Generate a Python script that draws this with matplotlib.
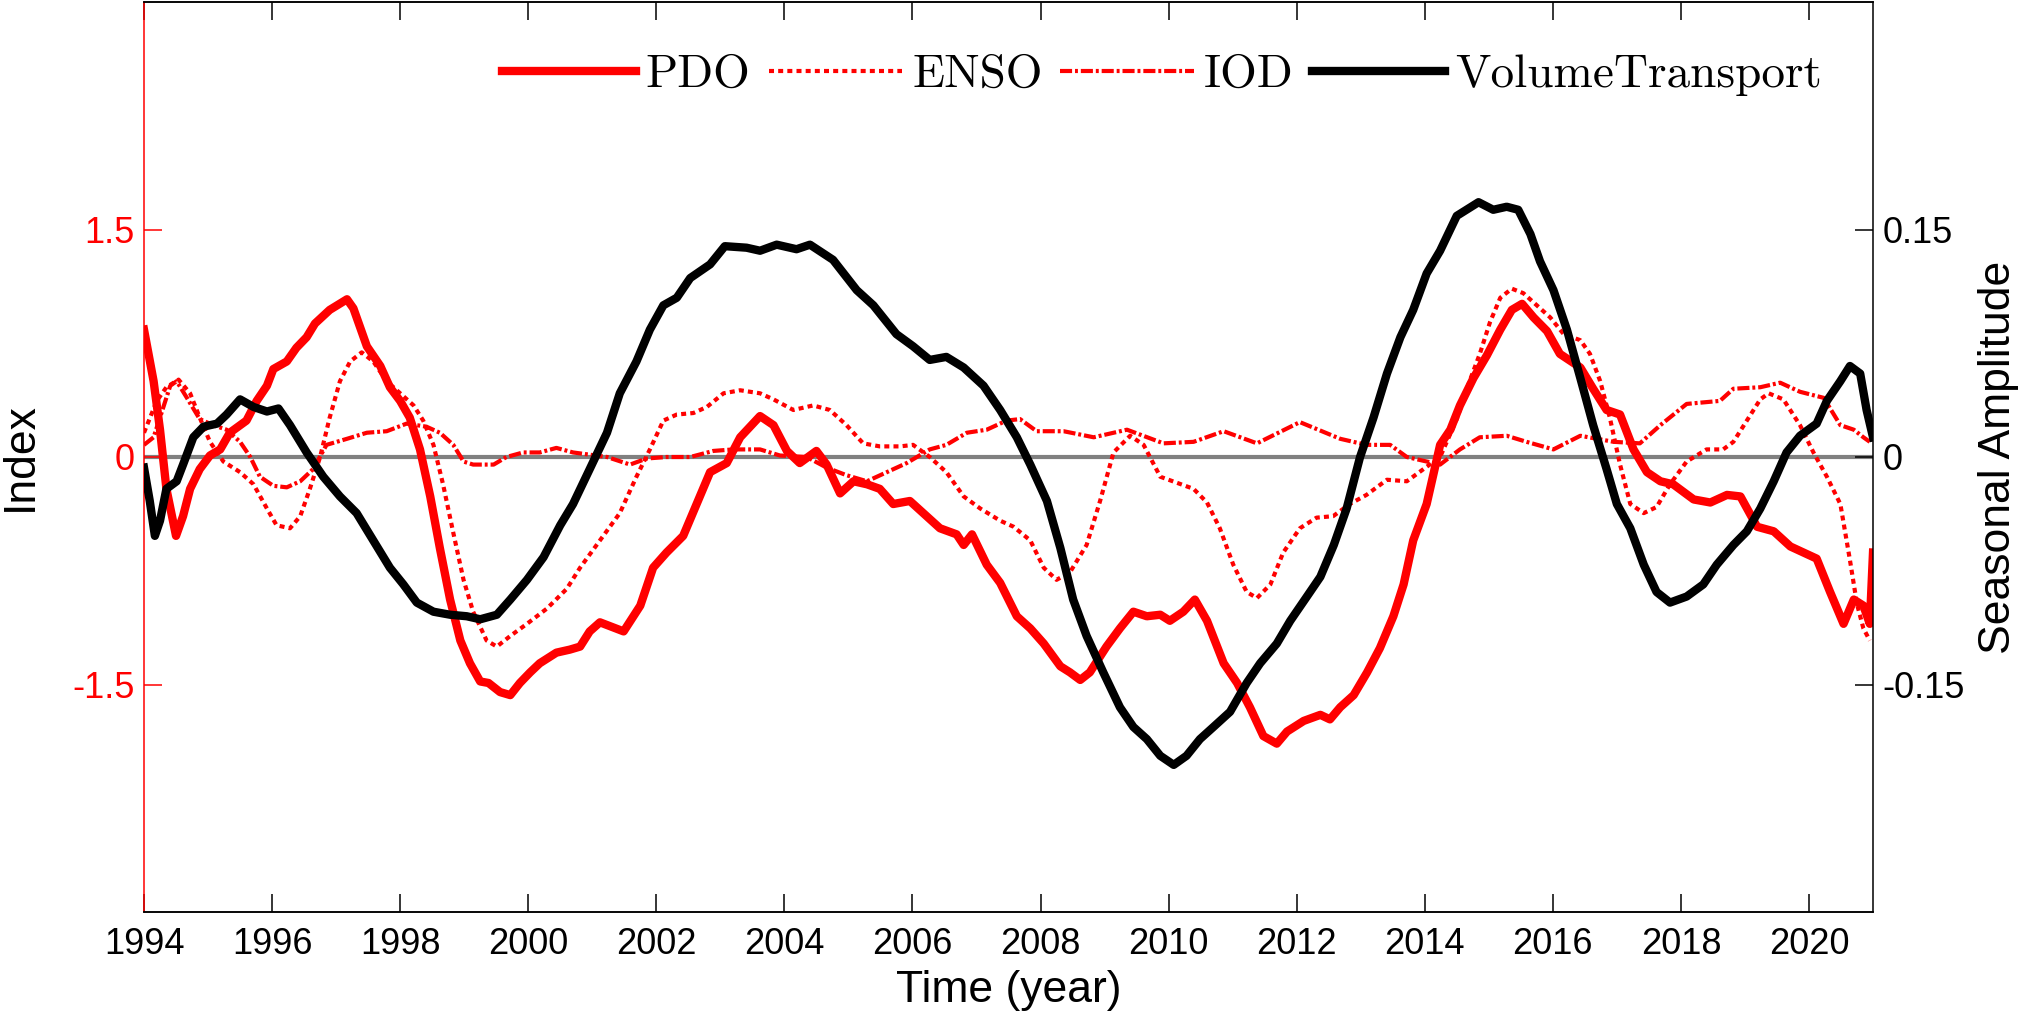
"""Climate indices vs. volume transport seasonal amplitude, 1994-2021."""
import matplotlib
matplotlib.use("Agg")
import matplotlib.pyplot as plt

plt.rcParams["font.family"] = "Liberation Sans"
plt.rcParams["axes.unicode_minus"] = False

RED = "#ff0000"
GREY = "#808080"

# PDO index (left axis)
pdo_years = [
    1994.00, 1994.15, 1994.25, 1994.35, 1994.50, 1994.61, 1994.72, 1994.87, 1995.03, 1995.19,
    1995.34, 1995.60, 1995.76, 1995.92, 1996.02, 1996.23, 1996.38, 1996.54, 1996.67, 1996.90,
    1997.17, 1997.27, 1997.48, 1997.69, 1997.84, 1998.00, 1998.15, 1998.31, 1998.47, 1998.62,
    1998.78, 1998.94, 1999.09, 1999.25, 1999.38, 1999.56, 1999.72, 1999.87, 2000.03, 2000.18,
    2000.44, 2000.65, 2000.81, 2000.96, 2001.12, 2001.49, 2001.75, 2001.95, 2002.16, 2002.42,
    2002.63, 2002.84, 2003.10, 2003.31, 2003.62, 2003.83, 2004.04, 2004.24, 2004.50, 2004.66,
    2004.87, 2005.08, 2005.29, 2005.49, 2005.70, 2005.96, 2006.17, 2006.43, 2006.69, 2006.80,
    2006.93, 2007.16, 2007.37, 2007.63, 2007.84, 2008.05, 2008.31, 2008.46, 2008.62, 2008.77,
    2009.03, 2009.24, 2009.45, 2009.66, 2009.87, 2010.02, 2010.23, 2010.41, 2010.60, 2010.86,
    2011.07, 2011.27, 2011.48, 2011.69, 2011.85, 2012.11, 2012.37, 2012.52, 2012.68, 2012.89,
    2013.10, 2013.30, 2013.51, 2013.67, 2013.82, 2014.03, 2014.24, 2014.40, 2014.55, 2014.76,
    2014.97, 2015.18, 2015.36, 2015.52, 2015.70, 2015.91, 2016.11, 2016.43, 2016.63, 2016.84,
    2017.05, 2017.26, 2017.47, 2017.68, 2017.88, 2018.20, 2018.46, 2018.72, 2018.93, 2019.19,
    2019.45, 2019.71, 2020.12, 2020.33, 2020.54, 2020.70, 2020.85, 2020.95, 2021.00,
]
pdo = [
    0.84, 0.50, 0.18, -0.21, -0.52, -0.39, -0.21, -0.08, 0.01, 0.05,
    0.16, 0.24, 0.37, 0.47, 0.58, 0.63, 0.72, 0.79, 0.88, 0.97,
    1.04, 0.98, 0.73, 0.60, 0.46, 0.37, 0.26, 0.05, -0.26, -0.60,
    -0.94, -1.21, -1.36, -1.48, -1.49, -1.55, -1.57, -1.49, -1.42, -1.36,
    -1.29, -1.27, -1.25, -1.15, -1.09, -1.15, -0.98, -0.73, -0.63, -0.52,
    -0.31, -0.10, -0.04, 0.13, 0.27, 0.21, 0.04, -0.04, 0.04, -0.05,
    -0.24, -0.16, -0.18, -0.21, -0.31, -0.29, -0.37, -0.47, -0.51, -0.58,
    -0.51, -0.71, -0.83, -1.05, -1.13, -1.23, -1.38, -1.42, -1.47, -1.42,
    -1.25, -1.13, -1.02, -1.05, -1.04, -1.08, -1.02, -0.94, -1.08, -1.36,
    -1.49, -1.65, -1.84, -1.89, -1.81, -1.74, -1.70, -1.73, -1.65, -1.57,
    -1.42, -1.26, -1.05, -0.84, -0.55, -0.31, 0.08, 0.18, 0.34, 0.52,
    0.67, 0.84, 0.97, 1.01, 0.92, 0.83, 0.68, 0.59, 0.45, 0.31,
    0.28, 0.05, -0.10, -0.16, -0.18, -0.28, -0.30, -0.25, -0.26, -0.46,
    -0.49, -0.59, -0.67, -0.89, -1.10, -0.94, -0.98, -1.10, -0.63,
]

# ENSO index (left axis)
enso_years = [
    1994.00, 1994.20, 1994.35, 1994.54, 1994.72, 1994.87, 1995.03, 1995.24, 1995.50, 1995.71,
    1995.92, 1996.07, 1996.28, 1996.44, 1996.59, 1996.75, 1996.90, 1997.06, 1997.22, 1997.40,
    1997.58, 1997.79, 1998.00, 1998.21, 1998.36, 1998.52, 1998.67, 1998.83, 1998.99, 1999.14,
    1999.35, 1999.51, 1999.72, 1999.98, 2000.29, 2000.60, 2000.81, 2001.12, 2001.43, 2001.69,
    2001.90, 2002.11, 2002.32, 2002.58, 2002.79, 2003.05, 2003.31, 2003.62, 2003.83, 2004.14,
    2004.45, 2004.71, 2004.97, 2005.23, 2005.49, 2005.81, 2006.01, 2006.27, 2006.53, 2006.80,
    2007.06, 2007.37, 2007.58, 2007.84, 2008.05, 2008.25, 2008.46, 2008.72, 2008.93, 2009.14,
    2009.40, 2009.61, 2009.87, 2010.13, 2010.39, 2010.60, 2010.80, 2011.01, 2011.22, 2011.38,
    2011.59, 2011.79, 2012.05, 2012.31, 2012.57, 2012.83, 2013.09, 2013.41, 2013.72, 2013.98,
    2014.24, 2014.50, 2014.70, 2014.86, 2015.02, 2015.18, 2015.36, 2015.54, 2015.75, 2015.96,
    2016.17, 2016.43, 2016.58, 2016.74, 2016.89, 2017.05, 2017.21, 2017.42, 2017.62, 2017.83,
    2018.09, 2018.40, 2018.66, 2018.82, 2019.03, 2019.24, 2019.37, 2019.60, 2019.86, 2020.07,
    2020.28, 2020.49, 2020.64, 2020.75, 2020.85, 2020.95,
]
enso = [
    0.16, 0.37, 0.46, 0.51, 0.42, 0.26, 0.10, -0.03, -0.10, -0.18,
    -0.34, -0.45, -0.47, -0.39, -0.21, 0.00, 0.26, 0.50, 0.63, 0.69,
    0.63, 0.50, 0.42, 0.34, 0.24, 0.08, -0.18, -0.50, -0.81, -1.02,
    -1.21, -1.25, -1.18, -1.10, -1.00, -0.87, -0.73, -0.55, -0.37, -0.13,
    0.05, 0.24, 0.28, 0.29, 0.33, 0.42, 0.44, 0.42, 0.38, 0.31,
    0.34, 0.31, 0.21, 0.09, 0.07, 0.07, 0.08, 0.00, -0.10, -0.26,
    -0.34, -0.42, -0.46, -0.55, -0.73, -0.81, -0.76, -0.58, -0.29, 0.03,
    0.14, 0.08, -0.13, -0.17, -0.21, -0.30, -0.47, -0.71, -0.89, -0.93,
    -0.84, -0.63, -0.47, -0.40, -0.39, -0.31, -0.25, -0.15, -0.16, -0.08,
    0.00, 0.25, 0.50, 0.68, 0.89, 1.05, 1.11, 1.08, 1.00, 0.92,
    0.81, 0.77, 0.68, 0.50, 0.26, -0.05, -0.31, -0.37, -0.33, -0.18,
    -0.03, 0.05, 0.05, 0.10, 0.24, 0.38, 0.42, 0.38, 0.21, 0.03,
    -0.13, -0.31, -0.68, -0.97, -1.13, -1.21,
]

# IOD index (left axis)
iod_years = [
    1994.00, 1994.15, 1994.25, 1994.41, 1994.51, 1994.67, 1994.87, 1995.08, 1995.29, 1995.50,
    1995.66, 1995.81, 1996.02, 1996.23, 1996.44, 1996.64, 1996.85, 1997.17, 1997.48, 1997.79,
    1998.10, 1998.41, 1998.62, 1998.83, 1998.99, 1999.14, 1999.46, 1999.66, 1999.92, 2000.18,
    2000.44, 2000.70, 2001.23, 2001.59, 2001.85, 2002.16, 2002.53, 2002.89, 2003.20, 2003.62,
    2003.93, 2004.35, 2004.66, 2004.97, 2005.29, 2005.60, 2005.91, 2006.27, 2006.53, 2006.85,
    2007.16, 2007.47, 2007.68, 2007.94, 2008.36, 2008.83, 2009.35, 2009.92, 2010.39, 2010.86,
    2011.38, 2012.05, 2012.68, 2013.09, 2013.46, 2013.72, 2014.24, 2014.55, 2014.86, 2015.28,
    2015.59, 2016.01, 2016.43, 2016.95, 2017.36, 2017.68, 2018.09, 2018.61, 2018.82, 2019.24,
    2019.55, 2019.86, 2020.23, 2020.49, 2020.70, 2020.85, 2020.95,
]
iod = [
    0.08, 0.13, 0.26, 0.47, 0.50, 0.39, 0.25, 0.21, 0.18, 0.10,
    0.00, -0.13, -0.19, -0.20, -0.16, -0.08, 0.08, 0.12, 0.16, 0.17,
    0.22, 0.20, 0.16, 0.08, -0.03, -0.05, -0.05, 0.00, 0.03, 0.03,
    0.06, 0.03, 0.00, -0.05, -0.01, 0.00, 0.00, 0.04, 0.05, 0.05,
    0.01, 0.00, -0.07, -0.12, -0.16, -0.10, -0.04, 0.05, 0.08, 0.16,
    0.18, 0.24, 0.25, 0.17, 0.17, 0.13, 0.18, 0.09, 0.10, 0.17,
    0.09, 0.23, 0.12, 0.08, 0.08, 0.00, -0.05, 0.05, 0.13, 0.14,
    0.10, 0.05, 0.14, 0.10, 0.09, 0.21, 0.35, 0.37, 0.45, 0.46,
    0.49, 0.43, 0.39, 0.21, 0.18, 0.13, 0.10,
]

# Volume transport seasonal amplitude (right axis)
vt_years = [
    1994.00, 1994.09, 1994.17, 1994.25, 1994.35, 1994.51, 1994.61, 1994.77, 1994.93, 1995.14,
    1995.29, 1995.50, 1995.71, 1995.92, 1996.10, 1996.28, 1996.54, 1996.80, 1997.06, 1997.32,
    1997.58, 1997.84, 1998.05, 1998.26, 1998.52, 1998.78, 1999.04, 1999.25, 1999.51, 1999.72,
    1999.98, 2000.24, 2000.50, 2000.70, 2000.96, 2001.23, 2001.43, 2001.69, 2001.90, 2002.11,
    2002.32, 2002.53, 2002.84, 2003.07, 2003.41, 2003.62, 2003.88, 2004.19, 2004.40, 2004.76,
    2005.13, 2005.39, 2005.75, 2006.01, 2006.27, 2006.53, 2006.80, 2007.11, 2007.37, 2007.63,
    2007.84, 2008.10, 2008.31, 2008.51, 2008.72, 2008.98, 2009.24, 2009.45, 2009.66, 2009.87,
    2010.08, 2010.28, 2010.49, 2010.70, 2010.96, 2011.22, 2011.43, 2011.69, 2011.90, 2012.16,
    2012.37, 2012.58, 2012.78, 2012.99, 2013.20, 2013.41, 2013.62, 2013.82, 2014.03, 2014.24,
    2014.50, 2014.84, 2015.07, 2015.28, 2015.46, 2015.65, 2015.80, 2016.01, 2016.22, 2016.43,
    2016.63, 2016.84, 2017.00, 2017.21, 2017.42, 2017.62, 2017.83, 2018.09, 2018.35, 2018.56,
    2018.82, 2019.03, 2019.24, 2019.45, 2019.65, 2019.86, 2020.12, 2020.28, 2020.49, 2020.64,
    2020.80, 2020.90, 2021.00,
]
vt = [
    -0.007, -0.029, -0.052, -0.042, -0.021, -0.016, -0.005, 0.013, 0.020, 0.022,
    0.028, 0.038, 0.033, 0.030, 0.032, 0.021, 0.003, -0.013, -0.026, -0.037,
    -0.055, -0.073, -0.084, -0.096, -0.102, -0.104, -0.105, -0.107, -0.104, -0.094,
    -0.081, -0.066, -0.045, -0.031, -0.008, 0.016, 0.042, 0.063, 0.084, 0.100,
    0.105, 0.118, 0.127, 0.139, 0.138, 0.136, 0.140, 0.137, 0.140, 0.130,
    0.110, 0.100, 0.081, 0.073, 0.064, 0.066, 0.059, 0.047, 0.031, 0.013,
    -0.005, -0.029, -0.060, -0.094, -0.118, -0.142, -0.165, -0.178, -0.186, -0.197,
    -0.203, -0.197, -0.186, -0.178, -0.168, -0.149, -0.136, -0.123, -0.108, -0.092,
    -0.079, -0.058, -0.034, 0.000, 0.026, 0.055, 0.079, 0.097, 0.121, 0.136,
    0.159, 0.168, 0.163, 0.165, 0.163, 0.147, 0.129, 0.110, 0.084, 0.052,
    0.021, -0.008, -0.031, -0.047, -0.071, -0.089, -0.096, -0.092, -0.084, -0.071,
    -0.058, -0.049, -0.034, -0.016, 0.003, 0.014, 0.022, 0.037, 0.050, 0.060,
    0.055, 0.031, 0.013,
]

year_ticks = list(range(1994, 2021, 2))
left_ticks = [-1.5, 0, 1.5]
left_labels = ["-1.5", "0", "1.5"]
right_ticks = [-0.15, 0, 0.15]
right_labels = ["-0.15", "0", "0.15"]


def main():
    fig = plt.figure(figsize=(20.22, 10.14), dpi=100)
    ax = fig.add_axes([144 / 2022, 102 / 1014, 1729 / 2022, 910 / 1014])
    ax2 = ax.twinx()

    ax.axhline(0, color=GREY, lw=3, zorder=1)
    h_pdo, = ax.plot(pdo_years, pdo, color=RED, lw=6, solid_joinstyle="round", label="PDO", zorder=3)
    h_enso, = ax.plot(enso_years, enso, color=RED, lw=3, ls=(0, (1.2, 1.0)), label="ENSO", zorder=2)
    h_iod, = ax.plot(iod_years, iod, color=RED, lw=3, ls=(0, (2.9, 0.7, 0.7, 0.7)), label="IOD", zorder=2)
    h_vt, = ax2.plot(vt_years, vt, color="black", lw=6, solid_joinstyle="round",
                     label="VolumeTransport", zorder=3)

    ax.set_xlim(1994, 2021)
    ax.set_ylim(-3, 3)
    ax2.set_ylim(-0.3, 0.3)

    ax.set_xticks(year_ticks)
    ax.set_xticklabels([str(y) for y in year_ticks])
    ax.set_yticks(left_ticks)
    ax.set_yticklabels(left_labels)
    ax2.set_yticks(right_ticks)
    ax2.set_yticklabels(right_labels)

    ax.tick_params(axis="x", direction="in", top=True, length=13, width=1.1,
                   labelsize=26, pad=11, colors="black")
    ax.tick_params(axis="y", direction="in", length=13, width=1.1,
                   labelsize=26, pad=7, colors=RED)
    ax2.tick_params(axis="y", direction="in", length=13, width=1.1,
                    labelsize=26, pad=7, colors="black")

    for a in (ax, ax2):
        for sp in a.spines.values():
            sp.set_linewidth(1.1)
    ax.spines["left"].set_color(RED)
    ax2.spines["left"].set_visible(False)
    ax.spines["right"].set_visible(False)

    ax.set_xlabel("Time (year)", fontsize=32)
    ax.xaxis.set_label_coords(0.5, -0.064)
    ax.set_ylabel("Index", fontsize=32, va="center")
    ax.yaxis.set_label_coords(-0.0717, 0.5)
    ax2.set_ylabel("Seasonal Amplitude", fontsize=32, va="center", rotation=90)
    ax2.yaxis.set_label_coords(1.0723, 0.5)

    ax2.legend(
        handles=[h_pdo, h_enso, h_iod, h_vt],
        loc="center right", bbox_to_anchor=(0.9705, 1 - 73 / 910),
        ncol=4, frameon=False, borderpad=0, borderaxespad=0,
        handlelength=2.83, handletextpad=0.21, columnspacing=0.38,
        prop={"family": "cmr10", "size": 34},
    )

    fig.savefig("out.png", dpi=100)


if __name__ == "__main__":
    main()
